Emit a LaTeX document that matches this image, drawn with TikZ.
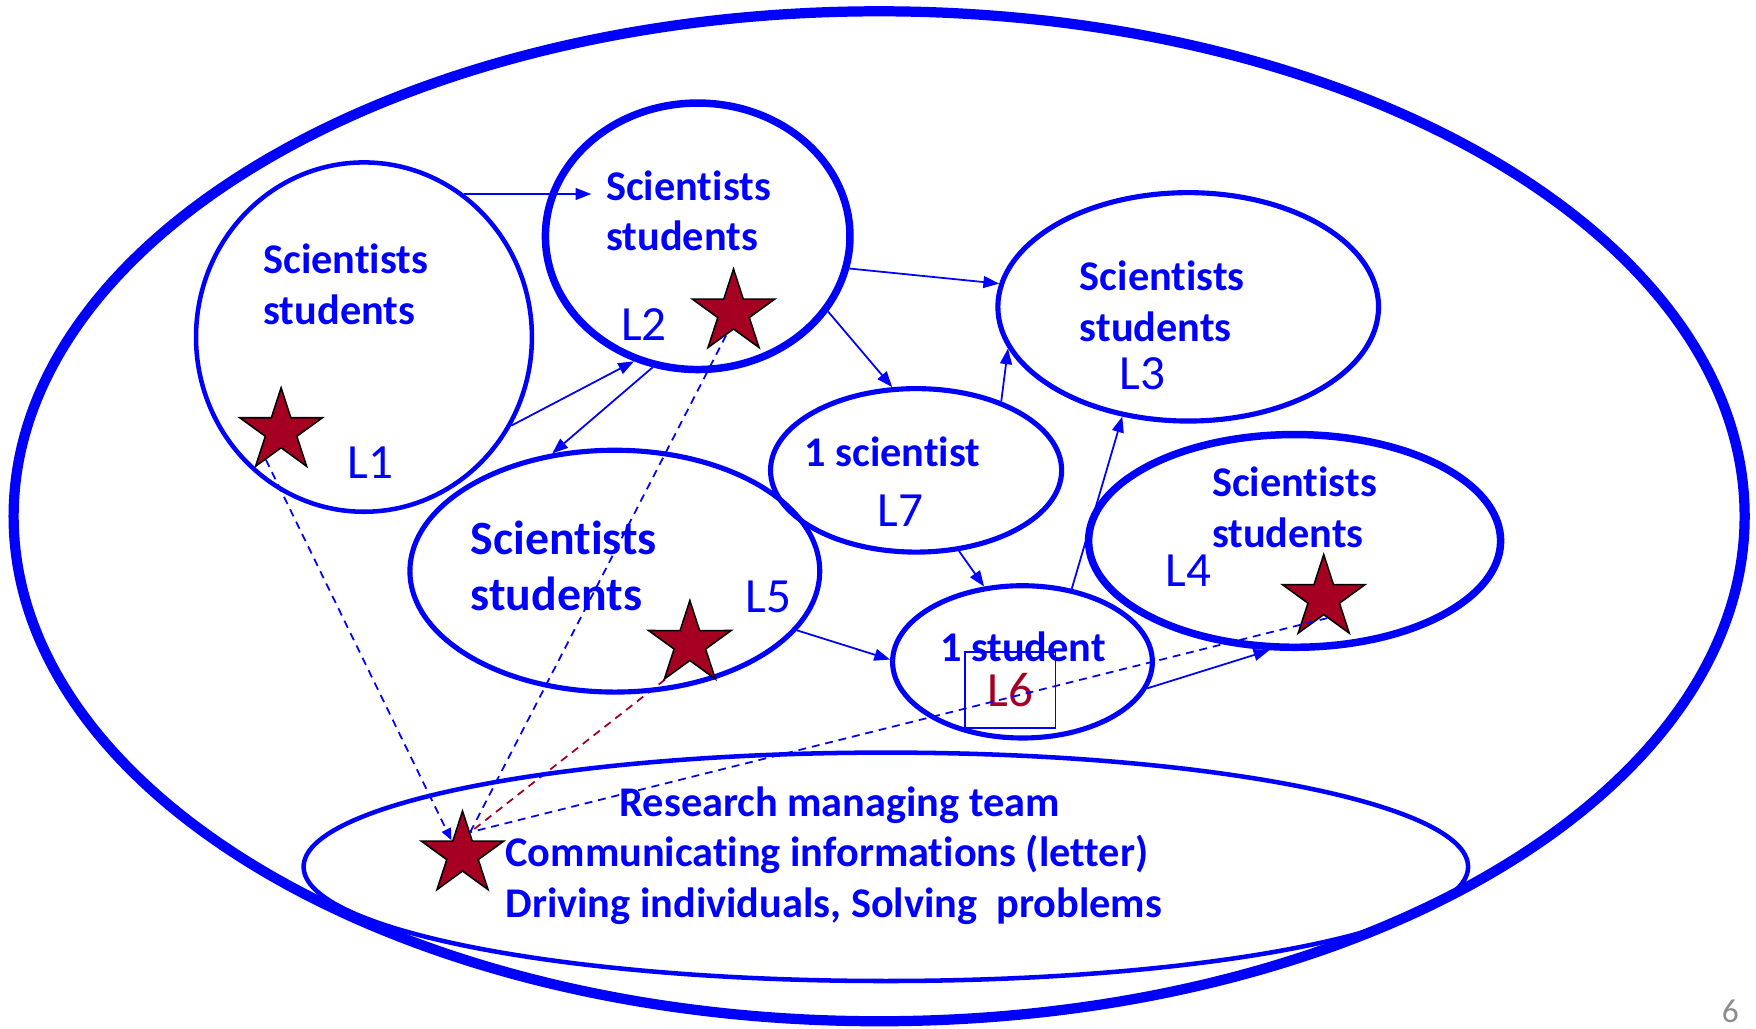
\documentclass[tikz,border=0pt]{standalone}
\usepackage{fontspec}
\setmainfont{Carlito}[Ligatures=NoCommon]
\usetikzlibrary{arrows.meta,shapes.geometric,backgrounds}
\definecolor{starred}{HTML}{A50021}
\definecolor{pagegray}{HTML}{8C8C8C}

\begin{document}
\begin{tikzpicture}[x=0.02cm,y=-0.02cm,>={Triangle[length=8pt,width=6pt]},
  grp/.style={draw=blue,ellipse,inner sep=0pt,line width=2.6pt},
  who/.style={text=blue,font=\bfseries\fontsize{21.5}{25.6}\selectfont,align=left,anchor=west,inner sep=0pt},
  tag/.style={text=blue,font=\fontsize{25}{30}\selectfont,inner sep=0pt},
  starmark/.style={star,star points=5,star point ratio=2.62,fill=starred,draw=black,line width=0.8pt,minimum size=1.55cm,inner sep=0pt},
  flow/.style={->,blue,line width=0.9pt},
  link/.style={blue,line width=0.9pt,dash pattern=on 4pt off 3pt}]
\useasboundingbox (0,0) rectangle (1568,918);

% the whole lab and the groups in it
\node[grp,line width=5.2pt,minimum width=30.92cm,minimum height=18.04cm] (lab) at (785,461) {};
\node[grp,line width=2.3pt,minimum width=6cm,minimum height=6.24cm] (L1) at (325,301) {};
\node[grp,line width=3.8pt,minimum width=5.44cm,minimum height=4.76cm] (L2) at (623,211) {};
\node[grp,minimum width=6.8cm,minimum height=4.08cm] (L3) at (1061,274) {};
\node[grp,minimum width=5.2cm,minimum height=2.92cm] (L7) at (818,420) {};
\node[grp,line width=3.8pt,minimum width=7.36cm,minimum height=3.8cm] (L4) at (1156,483) {};
\node[grp,minimum width=7.32cm,minimum height=4.32cm] (L5) at (549,510) {};
\node[grp,minimum width=4.64cm,minimum height=2.72cm] (L6) at (913,591) {};
\node[grp,line width=2.3pt,minimum width=20.8cm,minimum height=4.08cm] (team) at (791,774) {};

% who is in each group
\node[who] (t1) at (235,254) {Scientists\\students};
\node[who] (t2) at (541,188) {Scientists\\students};
\node[who] (t3) at (964,269) {Scientists\\students};
\node[who] (t4) at (1082,453) {Scientists\\students};
\node[who,font=\bfseries\fontsize{24.3}{28.5}\selectfont] (t5) at (420,505) {Scientists\\students};
\node[who] (t7) at (718,403) {1 scientist};
\node[who] (t6) at (839,578) {1 student};
\node[who] (hqtext) at (451,764) {\hspace*{2.04cm}Research managing team\\Communicating informations (letter)\\Driving individuals, Solving\ \ problems};

% group labels
\node[tag] (n1) at (331,413) {L1};
\node[tag] (n2) at (575,290) {L2};
\node[tag] (n3) at (1020,334) {L3};
\node[tag] (n7) at (804,456) {L7};
\node[tag] (n4) at (1061,510) {L4};
\node[tag] (n5) at (686,533) {L5};
\node[tag,text=starred,draw=blue,line width=0.8pt,minimum width=1.62cm,minimum height=1.36cm] (n6) at (902,616) {L6};

% stars
\node[starmark] (s1) at (251,385) {};
\node[starmark] (s2) at (655,279) {};
\node[starmark] (s5) at (616,575) {};
\node[starmark] (s4) at (1182,534) {};
\node[starmark] (hq) at (413,763) {};

\node[text=pagegray,font=\fontsize{17}{20}\selectfont,inner sep=0pt] (pg) at (1545,903) {6};

% exchanges between groups
\draw[flow,shorten >=0.26cm] (L1.55) -- (L1.55 -| t2.west);
\draw[flow] (L1.-31) -- (L2.243);
\draw[flow] (L2.251) -- (L5.118);
\draw[flow] (L2.-12) -- (L3.173);
\draw[flow] (L2.-30) -- (L7.106);
\draw[flow] (L7.39) -- (L3.193);
\draw[flow] (L7.-62) -- (L6.117);
\draw[flow] (L5.-18) -- (L6.179);
\draw[flow] (L6.56) -- (L3.239);
\draw[flow] (L6.-12) -- (L4.257);

% letters to the managing team
\begin{scope}[on background layer]
\draw[link,->,>={Triangle[length=6pt,width=5pt]}] (s1.-118) -- (hq.128);
\draw[link] (s2.-108) -- (hq.71);
\draw[link,draw=starred] (s5.-125) -- (hq.71);
\end{scope}
\draw[link] (s4.-80) -- (hq.71);
\end{tikzpicture}
\end{document}
